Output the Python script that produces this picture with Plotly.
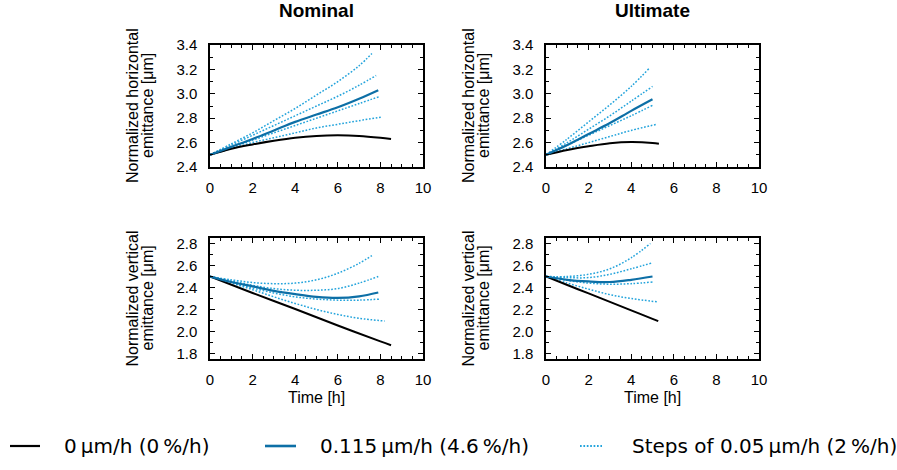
import plotly.graph_objects as go

# ---------------- data ----------------
# Nominal, horizontal
nh_black_t = [0, 1, 2, 3, 4, 5, 6, 7, 8, 8.5]
nh_black_y = [2.5, 2.55, 2.585, 2.615, 2.64, 2.655, 2.66, 2.655, 2.64, 2.63]
nh_blue_t = [0, 1, 2, 3, 4, 5, 6, 7, 7.9]
nh_blue_y = [2.5, 2.565, 2.63, 2.70, 2.77, 2.83, 2.89, 2.96, 3.03]
nh_dot_t = [[0, 1, 2, 3, 4, 5, 6, 7, 7.6],
            [0, 1, 2, 3, 4, 5, 6, 7, 7.8],
            [0, 1, 2, 3, 4, 5, 6, 7, 8.0],
            [0, 1, 2, 3, 4, 5, 6, 7, 8.1]]
nh_dot_y = [[2.5, 2.59, 2.68, 2.78, 2.88, 2.99, 3.10, 3.23, 3.33],
            [2.5, 2.58, 2.66, 2.74, 2.82, 2.90, 2.98, 3.07, 3.15],
            [2.5, 2.56, 2.62, 2.68, 2.74, 2.80, 2.86, 2.92, 2.98],
            [2.5, 2.55, 2.60, 2.64, 2.68, 2.72, 2.75, 2.78, 2.81]]

# Ultimate, horizontal
uh_black_t = [0, 1, 2, 3, 4, 5, 5.3]
uh_black_y = [2.5, 2.54, 2.57, 2.595, 2.605, 2.597, 2.59]
uh_blue_t = [0, 1, 2, 3, 4, 5]
uh_blue_y = [2.5, 2.58, 2.67, 2.76, 2.86, 2.955]
uh_dot_t = [[0, 1, 2, 3, 4, 4.85],
            [0, 1, 2, 3, 4, 5.0],
            [0, 1, 2, 3, 4, 5.0],
            [0, 1, 2, 3, 4, 5.2]]
uh_dot_y = [[2.5, 2.63, 2.77, 2.91, 3.06, 3.21],
            [2.5, 2.60, 2.71, 2.82, 2.94, 3.06],
            [2.5, 2.58, 2.66, 2.74, 2.82, 2.905],
            [2.5, 2.55, 2.60, 2.65, 2.70, 2.75]]

# Nominal, vertical
nv_black_t = [0, 2, 4, 6, 8, 8.5]
nv_black_y = [2.5, 2.35, 2.205, 2.055, 1.91, 1.875]
nv_blue_t = [0, 1, 2, 3, 4, 5, 6, 7, 7.9]
nv_blue_y = [2.5, 2.45, 2.41, 2.37, 2.34, 2.315, 2.305, 2.32, 2.355]
nv_dot_t = [[0, 1, 2, 3, 4, 5, 6, 7, 7.6],
            [0, 1, 2, 3, 4, 5, 6, 7, 7.9],
            [0, 1, 2, 3, 4, 5, 6, 7, 8.0],
            [0, 1, 2, 3, 4, 5, 6, 7, 8.2]]
nv_dot_y = [[2.5, 2.47, 2.445, 2.435, 2.44, 2.47, 2.53, 2.62, 2.69],
            [2.5, 2.46, 2.42, 2.39, 2.375, 2.375, 2.39, 2.44, 2.50],
            [2.5, 2.445, 2.395, 2.35, 2.315, 2.295, 2.285, 2.285, 2.295],
            [2.5, 2.44, 2.38, 2.315, 2.255, 2.20, 2.155, 2.12, 2.095]]

# Ultimate, vertical
uv_black_t = [0, 1, 2, 3, 4, 5, 5.27]
uv_black_y = [2.5, 2.423, 2.346, 2.269, 2.192, 2.115, 2.094]
uv_blue_t = [0, 1, 2, 3, 4, 5]
uv_blue_y = [2.5, 2.47, 2.455, 2.45, 2.47, 2.5]
uv_dot_t = [[0, 1, 2, 3, 4, 4.9],
            [0, 1, 2, 3, 4, 5.0],
            [0, 1, 2, 3, 4, 5.0],
            [0, 1, 2, 3, 4, 5.2]]
uv_dot_y = [[2.5, 2.5, 2.52, 2.57, 2.67, 2.80],
            [2.5, 2.49, 2.49, 2.52, 2.57, 2.625],
            [2.5, 2.465, 2.44, 2.43, 2.435, 2.45],
            [2.5, 2.44, 2.385, 2.335, 2.30, 2.27]]

col_titles = ["Nominal", "Ultimate"]
ytitle_lines = [["Normalized horizontal", "emittance [μm]"],
                ["Normalized vertical", "emittance [μm]"]]
xtitle = "Time [h]"
TS = "\u2009"
legend_labels = ["0" + TS + "μm/h (0" + TS + "%/h)",
                 "0.115" + TS + "μm/h (4.6" + TS + "%/h)",
                 "Steps of 0.05" + TS + "μm/h (2" + TS + "%/h)"]

BLACK = "#000000"
BLUE = "#0d6fa6"
LIGHT = "#24a4dc"

W, H = 897, 470
# panel pixel boxes (left, right) and (top, bottom)
xdom_px = [(210, 423), (546, 759)]
ydom_px = [(45, 167), (238, 359)]

fig = go.Figure()

panels = [
    ("x", "y", nh_black_t, nh_black_y, nh_blue_t, nh_blue_y, nh_dot_t, nh_dot_y),
    ("x2", "y2", uh_black_t, uh_black_y, uh_blue_t, uh_blue_y, uh_dot_t, uh_dot_y),
    ("x3", "y3", nv_black_t, nv_black_y, nv_blue_t, nv_blue_y, nv_dot_t, nv_dot_y),
    ("x4", "y4", uv_black_t, uv_black_y, uv_blue_t, uv_blue_y, uv_dot_t, uv_dot_y),
]

DOTDASH = "1.7px,1.7px"
for xa, ya, bt, by, st, sy, dts, dys in panels:
    for dt, dy in zip(dts, dys):
        fig.add_trace(go.Scatter(x=dt, y=dy, mode="lines", xaxis=xa, yaxis=ya,
                                 line=dict(color=LIGHT, width=1.5, dash=DOTDASH, shape="spline"),
                                 showlegend=False))
    fig.add_trace(go.Scatter(x=bt, y=by, mode="lines", xaxis=xa, yaxis=ya,
                             line=dict(color=BLACK, width=2, shape="spline"), showlegend=False))
    fig.add_trace(go.Scatter(x=st, y=sy, mode="lines", xaxis=xa, yaxis=ya,
                             line=dict(color=BLUE, width=2.2, shape="spline"), showlegend=False))

FAM = "Liberation Sans, Arial, sans-serif"
TICKFONT = dict(family=FAM, size=15, color="black")
TITLEFONT = dict(family=FAM, size=16, color="black")


def px2paper_x(p):
    return p / W


def px2paper_y(p):
    return 1 - p / H


layout = {}
for i in range(4):
    r, c = divmod(i, 2)
    suf = "" if i == 0 else str(i + 1)
    xl, xr = xdom_px[c]
    yt, yb = ydom_px[r]
    common = dict(showline=True, linecolor="black", linewidth=1.5, mirror="ticks",
                  ticks="inside", ticklen=5, tickwidth=1, tickcolor="black",
                  showgrid=False, zeroline=False, tickfont=TICKFONT, automargin=False)
    layout["xaxis" + suf] = dict(
        domain=[px2paper_x(xl), px2paper_x(xr)], range=[0, 10], dtick=2, tick0=0,
        anchor="y" + suf, ticklabelstandoff=6,
        minor=dict(ticks="inside", dtick=0.5, ticklen=3, tickcolor="black", tickwidth=1),
        **common)
    yr = [2.4, 3.4] if r == 0 else [1.75, 2.85]
    layout["yaxis" + suf] = dict(
        domain=[px2paper_y(yb), px2paper_y(yt)], range=yr, dtick=0.2, tick0=2.4,
        tickformat=".1f", anchor="x" + suf, ticklabelstandoff=8,
        minor=dict(ticks="inside", dtick=0.1, ticklen=3, tickcolor="black", tickwidth=1),
        **common)

fig.update_layout(**layout)

annotations = []
for c in range(2):
    xl, xr = xdom_px[c]
    xc = (xl + xr) / 2
    annotations.append(dict(x=px2paper_x(xc), y=px2paper_y(10), xref="paper", yref="paper",
                            text="<b>%s</b>" % col_titles[c], showarrow=False,
                            font=dict(family=FAM, size=19, color="black"),
                            xanchor="center", yanchor="middle"))
    annotations.append(dict(x=px2paper_x(xc), y=px2paper_y(397), xref="paper", yref="paper",
                            text=xtitle, showarrow=False, font=TITLEFONT,
                            xanchor="center", yanchor="middle"))
    for r in range(2):
        yt, yb = ydom_px[r]
        yc = (yt + yb) / 2
        for k, line in enumerate(ytitle_lines[r]):
            annotations.append(dict(x=px2paper_x(xl - 78 + 15 * k), y=px2paper_y(yc),
                                    xref="paper", yref="paper", text=line, textangle=-90,
                                    showarrow=False, font=TITLEFONT,
                                    xanchor="center", yanchor="middle"))

# legend (drawn in figure coordinates)
LEGFONT = dict(family="DejaVu Sans, sans-serif", size=20, color="black")
leg_y = 446
leg_samples = [(10, 40, BLACK, "solid", 2.2), (265, 296, BLUE, "solid", 2.6), (580, 602, LIGHT, DOTDASH, 2)]
leg_text_x = [62, 318, 630]
shapes = []
for (x0, x1, col, dash, wd), tx, lab in zip(leg_samples, leg_text_x, legend_labels):
    shapes.append(dict(type="line", xref="paper", yref="paper",
                       x0=px2paper_x(x0), x1=px2paper_x(x1), y0=px2paper_y(leg_y), y1=px2paper_y(leg_y),
                       line=dict(color=col, width=wd, dash=dash)))
    annotations.append(dict(x=px2paper_x(tx), y=px2paper_y(leg_y), xref="paper", yref="paper",
                            text=lab, showarrow=False, font=LEGFONT,
                            xanchor="left", yanchor="middle"))

fig.update_layout(annotations=annotations, shapes=shapes,
                  width=W, height=H, margin=dict(l=0, r=0, t=0, b=0, autoexpand=False),
                  paper_bgcolor="white", plot_bgcolor="white", showlegend=False)

fig.write_html("out.html")
